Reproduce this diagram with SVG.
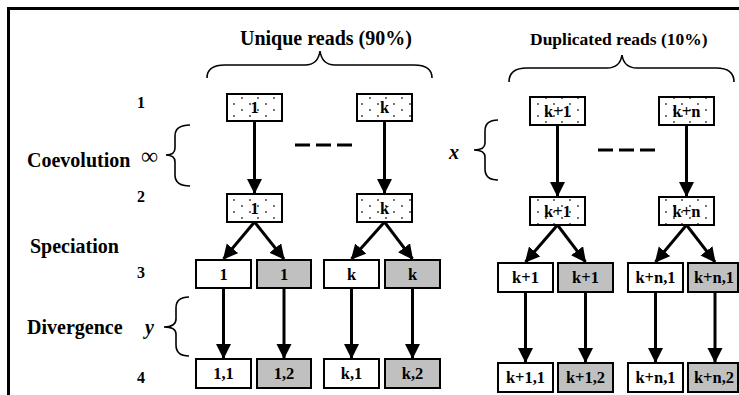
<svg xmlns="http://www.w3.org/2000/svg" width="739" height="395" viewBox="0 0 739 395">
<style>
text{font-family:"Liberation Serif","Times New Roman",serif;font-weight:bold;fill:#000}
.t{font-size:20px}
.lv{font-size:16px}
.bx{stroke:#000;stroke-width:2}
.w{fill:#fff}
.g{fill:#c0c0c0}
.d{fill:url(#dots)}
.bl{font-size:16.5px;text-anchor:middle}
.ar{stroke:#000;stroke-width:3;fill:none;marker-end:url(#ah)}
.br{stroke:#000;stroke-width:1.6;fill:none}
.dash{stroke:#000;stroke-width:3;stroke-dasharray:15 6;fill:none}
</style>
<defs>
<pattern id="dots" patternUnits="userSpaceOnUse" width="16" height="12">
<rect width="16" height="12" fill="#fff"/>
<circle cx="2" cy="2" r="1" fill="#444"/>
<circle cx="10" cy="8" r="1" fill="#444"/>
</pattern>
<marker id="ah" markerUnits="userSpaceOnUse" markerWidth="16" markerHeight="16" refX="14" refY="7.5" orient="auto">
<path d="M0,0 L15,7.5 L0,15 z" fill="#000"/>
</marker>
</defs>
<path d="M8.5,395 L8.5,8.5 L739,8.5" fill="none" stroke="#000" stroke-width="3"/>
<g id="headers">
<text class="t" x="240" y="45">Unique reads (90%)</text>
<text x="530" y="45" style="font-size:17.5px">Duplicated reads (10%)</text>
<path class="br" d="M207,78 Q207,65 225,65 L305,65 Q318,65 320,51 Q322,65 335,65 L414,65 Q432,65 432,78"/>
<path class="br" d="M509,82 Q509,68 527,68 L607,68 Q620,68 622,55 Q624,68 637,68 L716,68 Q734,68 734,82"/>
</g>
<g id="levels">
<text class="lv" x="137" y="108">1</text>
<text class="lv" x="137" y="202">2</text>
<text class="lv" x="137" y="278">3</text>
<text class="lv" x="137" y="383">4</text>
<text class="t" x="27" y="167">Coevolution</text>
<text x="141" y="164" style="font-weight:normal;font-size:24px">∞</text>
<path class="br" d="M190,125 Q175,125 175,136 L175,148 Q175,155 166,155 Q175,155 175,162 L175,175 Q175,186 190,186"/>
<text class="t" x="30" y="253">Speciation</text>
<text class="t" x="27" y="334">Divergence</text>
<text class="t" x="145" y="334" style="font-style:italic">y</text>
<path class="br" d="M189,297 Q176,297 176,308 L176,319 Q176,327 164,327 Q176,327 176,334 L176,345 Q176,356 189,356"/>
<text class="t" x="449" y="159" style="font-style:italic">x</text>
<path class="br" d="M498,120 Q485,120 485,131 L485,143 Q485,150 474,150 Q485,150 485,157 L485,169 Q485,180 498,180"/>
</g>
<g id="connectors">
<path class="ar" d="M254.5,121 V193"/>
<path class="ar" d="M384.5,121 V193"/>
<path class="ar" d="M557.5,125 V196"/>
<path class="ar" d="M686.5,125 V196"/>
<path class="ar" d="M254.5,222 L223.5,259"/>
<path class="ar" d="M254.5,222 L284,259"/>
<path class="ar" d="M384.5,222 L351.5,259"/>
<path class="ar" d="M384.5,222 L412.5,259"/>
<path class="ar" d="M557.5,225 L525.5,262"/>
<path class="ar" d="M557.5,225 L585.5,262"/>
<path class="ar" d="M686.5,225 L655.5,262"/>
<path class="ar" d="M686.5,225 L715,262"/>
<path class="ar" d="M223.5,288 V358"/>
<path class="ar" d="M284,288 V358"/>
<path class="ar" d="M351.5,288 V358"/>
<path class="ar" d="M412.5,288 V358"/>
<path class="ar" d="M525.5,292 V362"/>
<path class="ar" d="M585.5,292 V362"/>
<path class="ar" d="M655.5,292 V362"/>
<path class="ar" d="M715,292 V362"/>
<path class="dash" d="M295,145 H352"/>
<path class="dash" d="M598,150 H655"/>
</g>
<g id="u1-top"><rect class="bx d" x="227" y="94" width="55" height="27"/><text class="bl" x="254.5" y="113">1</text></g>
<g id="uk-top"><rect class="bx d" x="357" y="94" width="55" height="27"/><text class="bl" x="384.5" y="113">k</text></g>
<g id="u1-mid"><rect class="bx d" x="227" y="194" width="55" height="28"/><text class="bl" x="254.5" y="214">1</text></g>
<g id="uk-mid"><rect class="bx d" x="357" y="194" width="55" height="28"/><text class="bl" x="384.5" y="214">k</text></g>
<g id="u1a"><rect class="bx w" x="196" y="260" width="55" height="28"/><text class="bl" x="223.5" y="280">1</text></g>
<g id="u1b"><rect class="bx g" x="257" y="260" width="54" height="28"/><text class="bl" x="284" y="280">1</text></g>
<g id="uka"><rect class="bx w" x="324" y="260" width="55" height="28"/><text class="bl" x="351.5" y="280">k</text></g>
<g id="ukb"><rect class="bx g" x="385" y="260" width="55" height="28"/><text class="bl" x="412.5" y="280">k</text></g>
<g id="u11"><rect class="bx w" x="196" y="359" width="55" height="29"/><text class="bl" x="223.5" y="379">1,1</text></g>
<g id="u12"><rect class="bx g" x="257" y="359" width="54" height="29"/><text class="bl" x="284" y="379">1,2</text></g>
<g id="uk1"><rect class="bx w" x="324" y="359" width="55" height="29"/><text class="bl" x="351.5" y="379">k,1</text></g>
<g id="uk2"><rect class="bx g" x="385" y="359" width="55" height="29"/><text class="bl" x="412.5" y="379">k,2</text></g>
<g id="dk1-top"><rect class="bx d" x="530" y="97" width="55" height="28"/><text class="bl" x="557.5" y="117">k+1</text></g>
<g id="dkn-top"><rect class="bx d" x="659" y="97" width="55" height="28"/><text class="bl" x="686.5" y="117">k+n</text></g>
<g id="dk1-mid"><rect class="bx d" x="530" y="197" width="55" height="28"/><text class="bl" x="557.5" y="217">k+1</text></g>
<g id="dkn-mid"><rect class="bx d" x="659" y="197" width="55" height="28"/><text class="bl" x="686.5" y="217">k+n</text></g>
<g id="dk1a"><rect class="bx w" x="498" y="263" width="55" height="29"/><text class="bl" x="525.5" y="283">k+1</text></g>
<g id="dk1b"><rect class="bx g" x="558" y="263" width="55" height="29"/><text class="bl" x="585.5" y="283">k+1</text></g>
<g id="dkna"><rect class="bx w" x="628" y="263" width="55" height="29"/><text class="bl" x="655.5" y="283">k+n,1</text></g>
<g id="dknb"><rect class="bx g" x="688" y="263" width="50" height="29"/><text class="bl" x="714" y="283">k+n,1</text></g>
<g id="dk11"><rect class="bx w" x="498" y="363" width="55" height="29"/><text class="bl" x="525.5" y="383">k+1,1</text></g>
<g id="dk12"><rect class="bx g" x="558" y="363" width="55" height="29"/><text class="bl" x="585.5" y="383">k+1,2</text></g>
<g id="dkn1"><rect class="bx w" x="628" y="363" width="55" height="29"/><text class="bl" x="655.5" y="383">k+n,1</text></g>
<g id="dkn2"><rect class="bx g" x="688" y="363" width="50" height="29"/><text class="bl" x="714" y="383">k+n,2</text></g>
</svg>
